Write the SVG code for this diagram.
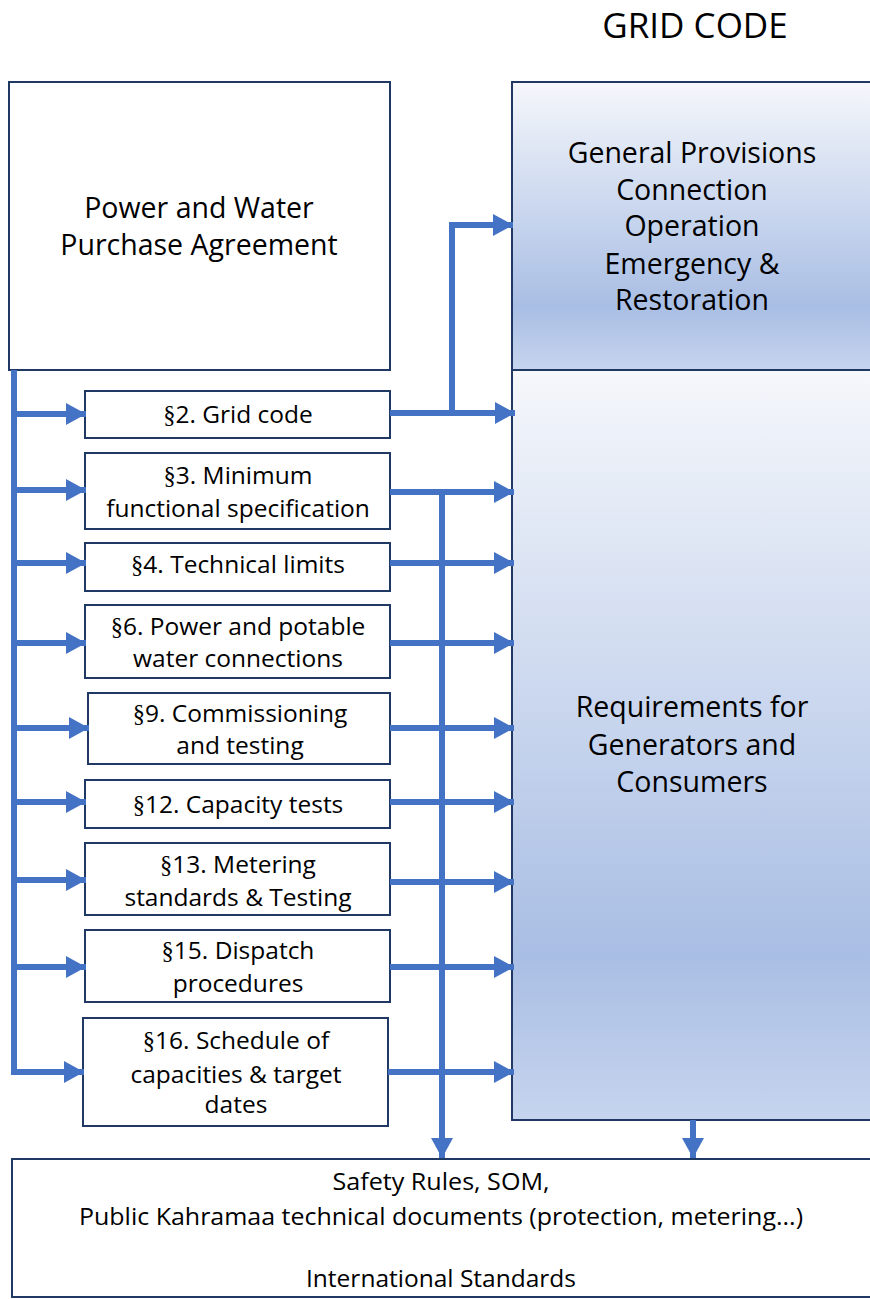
<svg xmlns="http://www.w3.org/2000/svg" width="870" height="1299" viewBox="0 0 870 1299">
<defs>
<linearGradient id="g" x1="0" y1="0" x2="0" y2="1">
<stop offset="0" stop-color="#f5f7fb"/>
<stop offset="0.78" stop-color="#a9bee4"/>
<stop offset="1" stop-color="#c6d4ee"/>
</linearGradient>
<marker id="ah" markerUnits="userSpaceOnUse" markerWidth="20" markerHeight="22" refX="20" refY="11" orient="auto">
<path d="M0,0 L20,11 L0,22 Z" fill="#4472c4"/>
</marker>
</defs>
<style>
.box{fill:#fff;stroke:#203864;stroke-width:2}
.gbox{fill:url(#g);stroke:#203864;stroke-width:2}
.t{font-family:"Open Sans","Liberation Sans",sans-serif;fill:#000;text-anchor:middle}
.s{font-size:24.5px}
.m{font-size:28.5px}
.b{font-size:23px}
.sec{font-family:"Liberation Serif",serif}
.c{stroke:#4472c4;stroke-width:6;fill:none}
.a{marker-end:url(#ah)}
</style>
<rect width="870" height="1299" fill="#fff"/>
<text class="t" x="695" y="38" style="font-size:35px">GRID CODE</text>

<g id="pwpa">
<rect class="box" x="9" y="82" width="381" height="288"/>
<text class="t m" x="199" y="218">Power and Water</text>
<text class="t m" x="199" y="255">Purchase Agreement</text>
</g>

<g id="general">
<rect class="gbox" x="512" y="82" width="362" height="288"/>
<text class="t m" x="692" y="163">General Provisions</text>
<text class="t m" x="692" y="200">Connection</text>
<text class="t m" x="692" y="236">Operation</text>
<text class="t m" x="692" y="274">Emergency &amp;</text>
<text class="t m" x="692" y="310">Restoration</text>
</g>

<g id="requirements">
<rect class="gbox" x="512" y="370" width="362" height="750"/>
<text class="t m" x="692" y="717">Requirements for</text>
<text class="t m" x="692" y="755">Generators and</text>
<text class="t m" x="692" y="792">Consumers</text>
</g>

<g id="s2">
<rect class="box" x="85" y="391" width="305" height="47"/>
<text class="t s" x="238" y="423"><tspan class="sec">§</tspan>2. Grid code</text>
</g>
<g id="s3">
<rect class="box" x="85" y="453" width="305" height="76"/>
<text class="t s" x="238" y="484"><tspan class="sec">§</tspan>3. Minimum</text>
<text class="t s" x="238" y="517">functional specification</text>
</g>
<g id="s4">
<rect class="box" x="85" y="543" width="305" height="48"/>
<text class="t s" x="238" y="573"><tspan class="sec">§</tspan>4. Technical limits</text>
</g>
<g id="s6">
<rect class="box" x="85" y="605" width="305" height="73"/>
<text class="t s" x="238" y="635"><tspan class="sec">§</tspan>6. Power and potable</text>
<text class="t s" x="238" y="667">water connections</text>
</g>
<g id="s9">
<rect class="box" x="88" y="693" width="302" height="71"/>
<text class="t s" x="240" y="722"><tspan class="sec">§</tspan>9. Commissioning</text>
<text class="t s" x="240" y="754">and testing</text>
</g>
<g id="s12">
<rect class="box" x="85" y="780" width="305" height="48"/>
<text class="t s" x="238" y="813"><tspan class="sec">§</tspan>12. Capacity tests</text>
</g>
<g id="s13">
<rect class="box" x="85" y="843" width="305" height="72"/>
<text class="t s" x="238" y="873"><tspan class="sec">§</tspan>13. Metering</text>
<text class="t s" x="238" y="906">standards &amp; Testing</text>
</g>
<g id="s15">
<rect class="box" x="85" y="930" width="305" height="72"/>
<text class="t s" x="238" y="959"><tspan class="sec">§</tspan>15. Dispatch</text>
<text class="t s" x="238" y="992">procedures</text>
</g>
<g id="s16">
<rect class="box" x="83" y="1018" width="305" height="108"/>
<text class="t s" x="236" y="1049"><tspan class="sec">§</tspan>16. Schedule of</text>
<text class="t s" x="236" y="1083">capacities &amp; target</text>
<text class="t s" x="236" y="1113">dates</text>
</g>

<g id="standards">
<rect class="box" x="12" y="1159" width="862" height="138"/>
<text class="t b" x="441" y="1190" textLength="217" lengthAdjust="spacingAndGlyphs">Safety Rules, SOM,</text>
<text class="t b" x="441" y="1225" textLength="724" lengthAdjust="spacingAndGlyphs">Public Kahramaa technical documents (protection, metering...)</text>
<text class="t b" x="441" y="1287" textLength="270" lengthAdjust="spacingAndGlyphs">International Standards</text>
</g>

<g id="connectors">
<path class="c" d="M14,370 V1072 H64"/>
<path class="c a" d="M14,414 H86"/>
<path class="c a" d="M14,490 H86"/>
<path class="c a" d="M14,563 H86"/>
<path class="c a" d="M14,643 H86"/>
<path class="c a" d="M14,728 H89"/>
<path class="c a" d="M14,802 H86"/>
<path class="c a" d="M14,880 H86"/>
<path class="c a" d="M14,967 H86"/>
<path class="c a" d="M14,1072 H84"/>
<path class="c a" d="M390,413 H515"/>
<path class="c a" d="M452,413 V225 H513"/>
<path class="c a" d="M390,492 H514"/>
<path class="c a" d="M442,492 V1158"/>
<path class="c a" d="M390,563 H514"/>
<path class="c a" d="M390,643 H514"/>
<path class="c a" d="M390,728 H514"/>
<path class="c a" d="M390,802 H514"/>
<path class="c a" d="M390,882 H514"/>
<path class="c a" d="M390,967 H514"/>
<path class="c a" d="M388,1072 H514"/>
<path class="c a" d="M693,1120 V1158"/>
</g>
</svg>
